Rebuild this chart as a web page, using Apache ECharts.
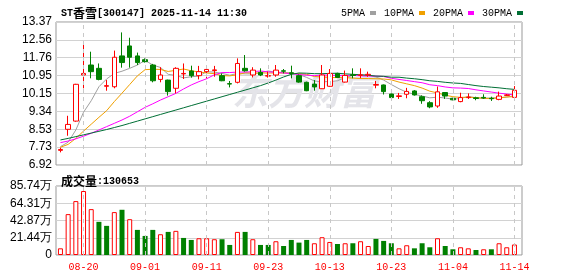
<!DOCTYPE html>
<html><head><meta charset="utf-8">
<script src="https://cdn.jsdelivr.net/npm/echarts@6/dist/echarts.min.js"></script>
<style>html,body{margin:0;padding:0;background:#fff}#c{width:578px;height:276px}</style>
</head><body><div id="c"></div>
<script>
const dates = ['08-15','08-18','08-19','08-20','08-21','08-22','08-25','08-26','08-27','08-28','08-29','09-01','09-02','09-03','09-04','09-05','09-08','09-09','09-10','09-11','09-12','09-15','09-16','09-17','09-18','09-19','09-22','09-23','09-24','09-25','09-26','09-29','09-30','10-09','10-10','10-13','10-14','10-15','10-16','10-17','10-20','10-21','10-22','10-23','10-24','10-27','10-28','10-29','10-30','10-31','11-03','11-04','11-05','11-06','11-07','11-10','11-11','11-12','11-13','11-14'];
const openP  = [7.58,8.53,8.90,10.98,11.43,11.28,10.47,10.45,11.84,12.29,11.84,11.67,11.43,10.78,10.75,10.38,11.03,11.16,10.95,11.13,11.18,10.95,10.59,10.65,11.28,10.98,11.10,10.93,10.98,11.17,11.08,10.95,10.65,10.57,10.36,10.47,11.05,10.66,10.99,10.96,10.98,10.52,10.53,10.12,10.01,10.11,10.26,10.00,9.73,9.58,10.19,9.93,9.78,9.96,9.95,9.97,9.93,9.88,10.06,9.97];
const closeP = [7.62,8.75,10.56,11.05,11.13,10.78,10.50,11.78,11.54,11.78,11.54,11.58,10.72,10.98,10.23,11.28,11.05,10.95,11.13,11.23,11.21,10.72,10.57,11.50,11.17,11.20,10.98,10.95,11.20,11.15,11.05,10.66,10.27,10.44,10.98,11.05,10.87,10.96,10.96,10.99,11.01,10.55,10.23,9.96,10.04,10.24,10.08,9.82,9.54,10.22,10.03,9.86,9.96,9.98,9.92,9.94,9.91,10.03,10.08,10.29];
const lowP   = [7.49,8.24,8.87,10.38,10.83,10.74,10.27,10.38,11.31,11.31,11.43,11.54,10.65,10.65,10.05,10.15,10.80,10.86,10.78,10.83,10.90,10.70,10.42,10.60,11.13,10.87,10.93,10.86,10.90,11.05,10.83,10.63,10.25,10.27,10.35,10.45,10.86,10.64,10.83,10.83,10.90,10.38,10.10,9.93,9.90,9.93,10.05,9.68,9.48,9.50,9.90,9.84,9.75,9.90,9.84,9.90,9.81,9.84,10.03,9.97];
const highP  = [7.70,9.14,10.58,12.38,12.03,11.50,10.75,12.08,12.90,12.66,11.99,11.73,11.48,11.33,10.77,11.33,11.50,11.40,11.39,11.31,11.39,11.05,10.71,11.73,11.88,11.33,11.28,11.13,11.43,11.25,11.40,11.00,10.68,10.75,11.43,11.25,11.08,11.18,11.28,11.28,11.13,10.71,10.55,10.14,10.17,10.40,10.30,10.06,9.80,10.46,10.20,9.95,10.18,10.15,10.00,10.11,10.00,10.23,10.12,10.48];
const ma5  = [7.75,7.95,8.50,9.30,9.82,10.45,10.80,11.05,11.15,11.28,11.43,11.64,11.43,11.32,11.01,10.96,10.85,10.90,10.93,11.13,11.11,11.05,10.97,11.05,11.03,11.03,11.08,11.16,11.10,11.10,11.07,11.00,10.87,10.71,10.68,10.68,10.72,10.86,10.96,10.96,10.96,10.89,10.75,10.55,10.36,10.20,10.11,10.03,9.95,9.98,9.94,9.89,9.92,10.01,9.95,9.93,9.94,9.96,9.98,10.05];
const ma10 = [7.72,7.85,8.12,8.45,8.76,9.07,9.37,9.78,10.16,10.55,10.94,11.22,11.24,11.23,11.14,11.19,11.25,11.17,11.12,11.07,11.04,10.95,10.94,10.99,11.08,11.07,11.07,11.07,11.07,11.07,11.05,11.04,11.01,10.91,10.89,10.87,10.86,10.86,10.84,10.82,10.82,10.81,10.80,10.76,10.66,10.58,10.50,10.39,10.25,10.17,10.07,10.00,9.97,9.98,9.96,9.93,9.92,9.94,9.99,10.00];
const ma20 = [7.93,8.00,8.10,8.22,8.35,8.50,8.65,8.80,8.95,9.12,9.32,9.52,9.68,9.85,10.00,10.15,10.35,10.53,10.68,10.81,10.99,11.09,11.09,11.11,11.11,11.13,11.16,11.12,11.10,11.07,11.04,11.00,10.97,10.95,10.98,10.97,10.96,10.96,10.96,10.94,10.93,10.93,10.91,10.83,10.78,10.73,10.68,10.63,10.54,10.50,10.44,10.40,10.39,10.37,10.31,10.26,10.21,10.16,10.12,10.08];
const ma30 = [8.05,8.12,8.20,8.28,8.36,8.44,8.52,8.61,8.70,8.80,8.90,9.00,9.10,9.20,9.30,9.40,9.50,9.60,9.70,9.80,9.90,10.00,10.10,10.20,10.30,10.40,10.50,10.62,10.75,10.89,11.01,11.07,11.06,11.04,11.04,11.05,11.06,11.03,11.01,10.99,10.97,10.93,10.92,10.88,10.88,10.84,10.81,10.77,10.72,10.69,10.65,10.62,10.60,10.55,10.50,10.46,10.43,10.40,10.36,10.33];
const volWan = [8.3,50.8,67.0,79.5,57.0,41.2,36.2,53.3,56.2,44.5,31.2,23.7,31.2,25.8,28.7,30.0,21.2,18.7,20.8,20.8,19.6,19.6,12.5,28.7,28.7,19.6,12.5,12.5,17.1,11.2,18.7,15.4,18.7,14.6,22.1,16.2,13.7,14.6,14.6,17.1,11.2,20.0,17.5,14.6,8.3,12.1,8.3,14.6,9.6,20.8,11.2,7.1,9.6,8.3,6.2,7.1,7.1,14.6,9.6,13.07];
const volDir = [1,1,1,1,1,-1,-1,1,-1,1,-1,-1,-1,1,-1,1,-1,-1,1,1,1,-1,-1,1,-1,1,-1,-1,1,-1,-1,-1,-1,1,1,1,-1,1,-1,1,1,-1,-1,-1,1,1,-1,-1,-1,1,-1,-1,1,1,-1,1,-1,1,1,1];
const priceTicks = ['6.92','7.73','8.53','9.34','10.15','10.95','11.76','12.56','13.37'];
const volTicks = ['0','21.44万','42.87万','64.31万','85.74万'];
const labelDates = ['08-20','09-01','09-11','09-23','10-13','10-23','11-04','11-14'];
const legendNames = ['5PMA','10PMA','20PMA','30PMA'];
const maColors = ['#a0a0a0','#f0a000','#ff00ff','#006f35'];

const mono = '"Liberation Mono", monospace';
const sans = '"Liberation Sans", Arial, sans-serif';
const cjk = '"Noto Sans CJK SC", sans-serif';
const UP = '#ff0000', DOWN = '#008000';
const pMin = 6.92, pMax = 13.37, pInt = 0.80625;
const vMax = 85.74, vInt = 21.435;

const frameGrid = {show:true, borderColor:'#999', borderWidth:1, backgroundColor:'transparent'};
const dataLeft = 56.6, dataRight = 578 - 518.3;

const option = {
  animation: false,
  backgroundColor: '#fff',
  title: [
    {left: 56, top: 2, text: '{a|ST}{b|香雪}{a|[300147] 2025-11-14 11:30}',
     textStyle: {rich: {a:{fontFamily:mono, fontSize:10, color:'#000'}, b:{fontFamily:cjk, fontSize:12, color:'#000'}}}},
    {left: 56, top: 170, text: '{b|成交量}{a|:130653}',
     textStyle: {rich: {a:{fontFamily:mono, fontSize:10, color:'#000'}, b:{fontFamily:cjk, fontSize:12, color:'#000'}}}}
  ],
  legend: {left: 336, top: 3, align: 'right', itemWidth: 6, itemHeight: 4, itemGap: 8, icon: 'rect',
    textStyle: {fontFamily: mono, fontSize: 10, color: '#000'},
    data: legendNames.map((n,i)=>({name:n, itemStyle:{color:maColors[i]}}))},
  graphic: [{type:'text', left: 232, top: 73, z: 1, silent: true,
    style: {text:'东方财富', fontSize: 36, fontWeight:'bold', fontStyle:'italic', fontFamily: cjk, fill:'#e4e4e9'}}],
  grid: [
    Object.assign({left:56, top:22, width:466, height:143}, frameGrid),
    {left:dataLeft, right:dataRight, top:22, height:143, show:false},
    Object.assign({left:56, top:186, width:466, height:69}, frameGrid),
    {left:dataLeft, right:dataRight, top:186, height:69, show:false}
  ],
  xAxis: [
    {gridIndex:0, type:'value', show:false},
    {gridIndex:1, type:'category', data:dates, boundaryGap:true, axisLine:{show:false}, axisTick:{show:false}, axisLabel:{show:false}, splitLine:{show:false}},
    {gridIndex:2, type:'value', show:false},
    {gridIndex:3, type:'category', data:dates, boundaryGap:true, axisLine:{show:false}, axisTick:{show:false},
      axisLabel:{interval:(i,v)=>labelDates.indexOf(v)>=0, color:UP, fontFamily:mono, fontSize:10, margin:7}, splitLine:{show:false}}
  ],
  yAxis: [
    {gridIndex:0, type:'value', min:pMin, max:pMax, interval:pInt, axisLine:{show:false}, axisTick:{show:false},
      axisLabel:{formatter:v=>priceTicks[Math.round((v-pMin)/pInt)], color:'#000', fontFamily:sans, fontSize:12, margin:4},
      splitLine:{lineStyle:{color:'#d2d2d2', width:1}}},
    {gridIndex:1, type:'value', min:pMin, max:pMax, show:false, splitLine:{show:false}},
    {gridIndex:2, type:'value', min:0, max:vMax, interval:vInt, axisLine:{show:false}, axisTick:{show:false},
      axisLabel:{formatter:v=>volTicks[Math.round(v/vInt)], color:'#000', fontFamily:sans, fontSize:12, margin:4},
      splitLine:{lineStyle:{color:'#d2d2d2', width:1}}},
    {gridIndex:3, type:'value', min:0, max:vMax, show:false, splitLine:{show:false}}
  ],
  series: [
    {type:'line', xAxisIndex:1, yAxisIndex:1, data:[], z:1, silent:true,
      markLine:{silent:true, symbol:['none','none'], label:{show:false}, animation:false,
        lineStyle:{type:[4,4], color:'#c8c8c8', width:1}, data: labelDates.map(d=>({xAxis:d}))}},
    {type:'line', xAxisIndex:3, yAxisIndex:3, data:[], z:1, silent:true,
      markLine:{silent:true, symbol:['none','none'], label:{show:false}, animation:false,
        lineStyle:{type:[4,4], color:'#c8c8c8', width:1}, data: labelDates.map(d=>({xAxis:d}))}},
    ...[ma5,ma10,ma20,ma30].map((arr,i)=>({name:legendNames[i], type:'line', xAxisIndex:1, yAxisIndex:1, data:arr,
      symbol:'none', color:maColors[i], lineStyle:{width:1, color:maColors[i]}, z:3, silent:true})),
    {type:'candlestick', xAxisIndex:1, yAxisIndex:1, barWidth:5, z:4,
      data: dates.map((d,i)=>[openP[i], closeP[i], lowP[i], highP[i]]),
      itemStyle:{color:'#fff', color0:DOWN, borderColor:UP, borderColor0:DOWN, borderWidth:1}},
    {type:'bar', xAxisIndex:3, yAxisIndex:3, barWidth:5, z:4,
      data: volWan.map((v,i)=>({value:v, itemStyle: volDir[i]>0 ? {color:'#fff', borderColor:UP, borderWidth:1} : {color:DOWN}}))}
  ]
};
echarts.init(document.getElementById('c')).setOption(option);
</script></body></html>
